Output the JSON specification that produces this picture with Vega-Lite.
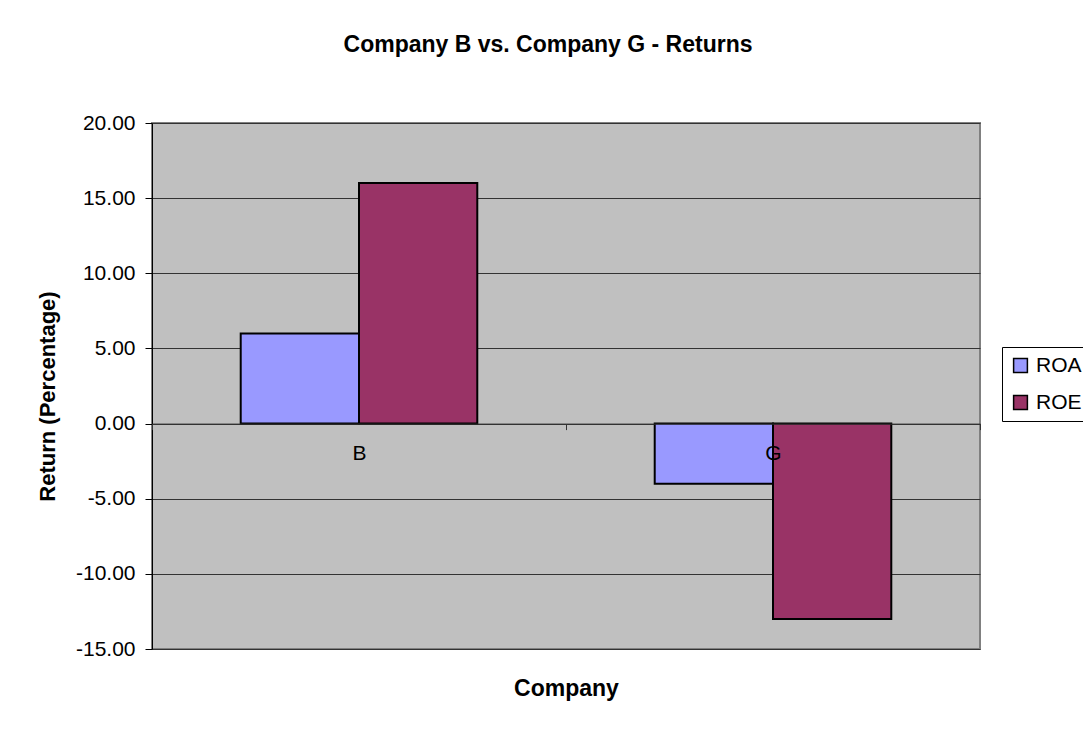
{
  "$schema": "https://vega.github.io/schema/vega-lite/v6.json",
  "width": 828,
  "height": 526,
  "autosize": "none",
  "padding": {"left": 152, "top": 123, "right": 103, "bottom": 80},
  "background": "white",
  "title": {
    "text": "Company B vs. Company G - Returns",
    "font": "Liberation Sans",
    "fontSize": 23,
    "fontWeight": "bold",
    "color": "black",
    "anchor": "middle",
    "baseline": "alphabetic",
    "dx": -18,
    "offset": 37
  },
  "data": {
    "values": [
      {"company": "B", "measure": "ROA", "value": 6},
      {"company": "B", "measure": "ROE", "value": 16},
      {"company": "G", "measure": "ROA", "value": -4},
      {"company": "G", "measure": "ROE", "value": -13}
    ]
  },
  "mark": {"type": "bar", "stroke": "black", "strokeWidth": 2},
  "encoding": {
    "x": {
      "field": "company",
      "type": "nominal",
      "scale": {"paddingInner": 0, "paddingOuter": 0},
      "axis": {
        "title": "Company",
        "orient": "bottom",
        "offset": -225.4,
        "zindex": 1,
        "labelAngle": 0,
        "labelFont": "Liberation Sans",
        "labelFontSize": 21,
        "labelColor": "black",
        "labelPadding": 13,
        "tickBand": "extent",
        "tickSize": 6,
        "tickColor": "#333333",
        "domainColor": "#333333",
        "domainWidth": 1,
        "grid": false,
        "titleFont": "Liberation Sans",
        "titleFontSize": 23,
        "titleFontWeight": "bold",
        "titleColor": "black",
        "titleBaseline": "alphabetic",
        "titleY": 272
      }
    },
    "xOffset": {
      "field": "measure",
      "scale": {"paddingInner": 0, "paddingOuter": 0.75}
    },
    "y": {
      "field": "value",
      "type": "quantitative",
      "scale": {"domain": [-15, 20], "nice": false, "zero": false},
      "axis": {
        "title": "Return (Percentage)",
        "values": [-15, -10, -5, 0, 5, 10, 15, 20],
        "labelExpr": "datum.value < 0 ? '-' + format(-datum.value, '.2f') : format(datum.value, '.2f')",
        "labelFont": "Liberation Sans",
        "labelFontSize": 21,
        "labelColor": "black",
        "labelPadding": 10,
        "tickSize": 7,
        "tickColor": "black",
        "domainColor": "black",
        "domainWidth": 1,
        "grid": true,
        "gridColor": "#333333",
        "gridWidth": 1,
        "titleFont": "Liberation Sans",
        "titleFontSize": 22,
        "titleFontWeight": "bold",
        "titleColor": "black",
        "titleAngle": -90,
        "titleAlign": "center",
        "titleBaseline": "middle",
        "titleX": -105,
        "titleY": 273
      }
    },
    "color": {
      "field": "measure",
      "type": "nominal",
      "scale": {"domain": ["ROA", "ROE"], "range": ["#9999FF", "#993366"]},
      "legend": {
        "title": null,
        "orient": "none",
        "legendX": 850,
        "legendY": 224,
        "fillColor": "white",
        "strokeColor": "black",
        "padding": 8,
        "symbolType": "square",
        "symbolSize": 190,
        "symbolStrokeColor": "black",
        "symbolStrokeWidth": 1.5,
        "symbolOpacity": 1,
        "labelFont": "Liberation Sans",
        "labelFontSize": 21,
        "labelColor": "black",
        "labelOffset": 5,
        "rowPadding": 15
      }
    }
  },
  "config": {
    "view": {"fill": "#C0C0C0", "stroke": "#808080", "strokeWidth": 2}
  }
}
